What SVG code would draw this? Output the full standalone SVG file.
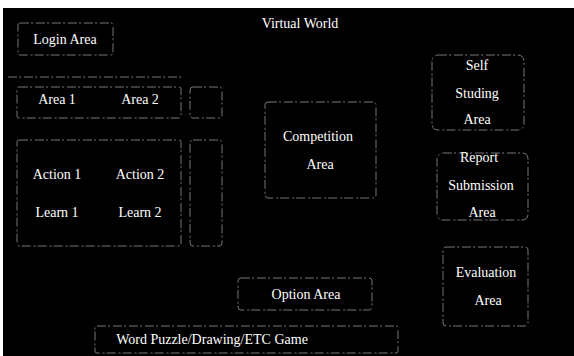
<svg xmlns="http://www.w3.org/2000/svg" width="574" height="356" viewBox="0 0 574 356">
<style>
.bg{fill:#000}
.box{fill:none;stroke:#777;stroke-width:1;stroke-dasharray:9 2 2 3}
.t{font-family:"Liberation Serif","DejaVu Serif","Times New Roman",serif;font-size:14px;fill:#fff;text-anchor:middle}
</style>
<rect x="0" y="0" width="574" height="356" fill="#fff"/>
<rect class="bg" x="3" y="8" width="571" height="348"/>
<g id="title"><text class="t" x="300" y="28">Virtual World</text></g>
<g id="login"><rect class="box" x="18" y="23" width="95" height="32" rx="2"/><text class="t" x="65" y="44">Login Area</text></g>
<g id="areas"><line class="box" x1="8" y1="77" x2="183" y2="77"/><rect class="box" x="17" y="87" width="164" height="31" rx="2"/><text class="t" x="57" y="104">Area 1</text><text class="t" x="140" y="104">Area 2</text></g>
<g id="more"><rect class="box" x="190" y="87" width="32" height="31" rx="3"/></g>
<g id="actions"><rect class="box" x="17" y="140" width="164" height="106" rx="2"/><text class="t" x="57" y="179">Action 1</text><text class="t" x="140" y="179">Action 2</text><text class="t" x="57" y="217">Learn  1</text><text class="t" x="140" y="217">Learn  2</text></g>
<g id="scroll"><rect class="box" x="190" y="140" width="32" height="106" rx="3"/></g>
<g id="competition"><rect class="box" x="265" y="102" width="111" height="96" rx="3"/><text class="t" x="318" y="141">Competition</text><text class="t" x="320" y="169">Area</text></g>
<g id="self"><rect class="box" x="432" y="55" width="92" height="75" rx="6"/><text class="t" x="477" y="70">Self</text><text class="t" x="477" y="98">Studing</text><text class="t" x="477" y="124">Area</text></g>
<g id="report"><rect class="box" x="437" y="153" width="91" height="67" rx="6"/><text class="t" x="479" y="162">Report</text><text class="t" x="481" y="190">Submission</text><text class="t" x="482" y="217">Area</text></g>
<g id="evaluation"><rect class="box" x="443" y="247" width="85" height="79" rx="3"/><text class="t" x="486" y="277">Evaluation</text><text class="t" x="488" y="305">Area</text></g>
<g id="option"><rect class="box" x="238" y="278" width="134" height="32" rx="3"/><text class="t" x="306" y="299">Option Area</text></g>
<g id="game"><rect class="box" x="95" y="326" width="303" height="27" rx="2"/><text class="t" x="212" y="344">Word Puzzle/Drawing/ETC Game</text></g>
<g id="connectors"></g>
</svg>
